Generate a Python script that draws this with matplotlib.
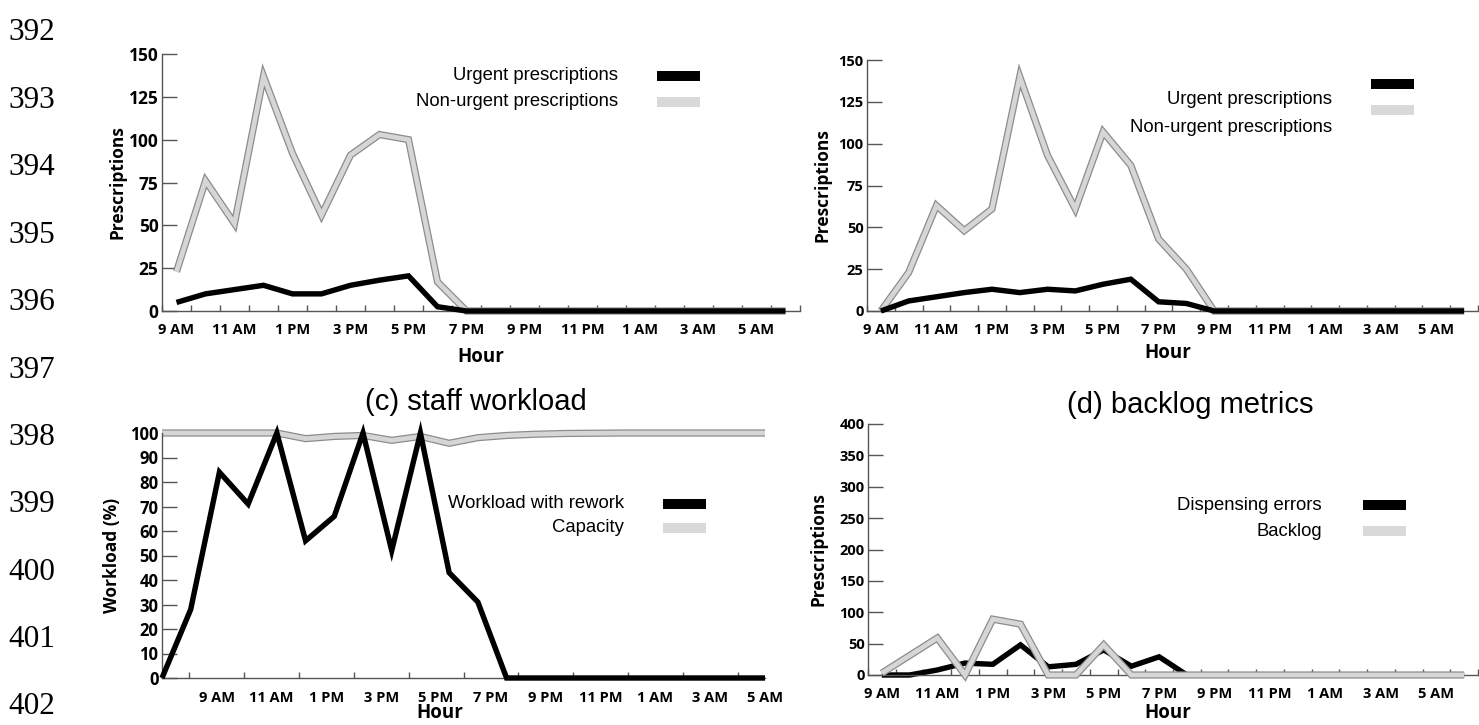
import numpy as np
import matplotlib.pyplot as plt
from matplotlib.patches import Rectangle

plt.rcParams['font.family'] = ['Liberation Sans', 'DejaVu Sans']

# hour labels
cat_labels = ['9 AM', '11 AM', '1 PM', '3 PM', '5 PM', '7 PM', '9 PM', '11 PM', '1 AM', '3 AM', '5 AM']

# (a) prescriptions
urgent_a = [5, 10, 12.5, 15, 10, 10, 15, 18, 20.5, 2.5, 0, 0, 0, 0, 0, 0, 0, 0, 0, 0, 0, 0]
nonurgent_a = [23, 76, 51, 137, 92, 56, 91, 103, 100, 17, 0, 0, 0, 0, 0, 0, 0, 0, 0, 0, 0, 0]

# (b) prescriptions
urgent_b = [0, 6, 8.5, 11, 13, 11, 13, 12, 16, 19, 5.5, 4.5, 0, 0, 0, 0, 0, 0, 0, 0, 0, 0]
nonurgent_b = [0, 23, 63, 48, 61, 140, 93, 61, 107, 87, 43, 25, 0, 0, 0, 0, 0, 0, 0, 0, 0, 0]

# (c) staff workload
workload_c = [0, 28, 84, 71, 100, 56, 66, 100, 52, 100, 43, 31, 0, 0, 0, 0, 0, 0, 0, 0, 0, 0]
capacity_c = [100, 100, 100, 100, 100, 97.7, 98.6, 99, 97, 98.6, 95.8, 98.1, 99, 99.5, 99.8,
              99.9, 100, 100, 100, 100, 100, 100]

# (d) backlog metrics
errors_d = [0, 0, 8, 19, 17, 48, 13, 17, 40, 14, 29, 0, 0, 0, 0, 0, 0, 0, 0, 0, 0, 0]
backlog_d = [3, 31, 59, 0, 89, 81, 0, 0, 48, 0, 0, 0, 0, 0, 0, 0, 0, 0, 0, 0, 0, 0]

line_numbers = list(range(392, 403))

W, H = 1479, 725
fig = plt.figure(figsize=(W / 100, H / 100), dpi=100)

BLACK = '#000000'
GRAY_IN = '#d6d6d6'
GRAY_OUT = '#8c8c8c'
SPINE = '#555555'
BOLD_FAMILY = ['Open Sans', 'DejaVu Sans']


def px_axes(l, t, r, b):
    ax = fig.add_axes([l / W, 1 - b / H, (r - l) / W, (b - t) / H])
    ax.px_box = (l, t, r, b)
    return ax


def gray_line(ax, x, y, z=2):
    ax.plot(x, y, color=GRAY_OUT, lw=5.2, solid_joinstyle='miter', solid_capstyle='butt',
            clip_on=False, zorder=z)
    ax.plot(x, y, color=GRAY_IN, lw=3.4, solid_joinstyle='miter', solid_capstyle='butt',
            clip_on=False, zorder=z + 0.1)


def black_line(ax, x, y, z=3):
    ax.plot(x, y, color=BLACK, lw=3.9, solid_joinstyle='miter', solid_capstyle='butt',
            clip_on=False, zorder=z)


def bold_labels(labels, size):
    for lab in labels:
        lab.set_fontfamily(BOLD_FAMILY)
        lab.set_fontweight('bold')
        lab.set_fontsize(size)


def style(ax, ylabel, yticks, ysize, ylab_right, hour_x, hour_y):
    l, t, r, b = ax.px_box
    for s in ['top', 'right']:
        ax.spines[s].set_visible(False)
    for s in ['left', 'bottom']:
        ax.spines[s].set_color(SPINE)
        ax.spines[s].set_linewidth(1.0)
    ax.set_yticks(yticks)
    ax.set_ylim(yticks[0], yticks[-1])
    ax.tick_params(axis='y', direction='in', length=11, width=1, color=SPINE, pad=2.5)
    bold_labels(ax.get_yticklabels(), ysize)
    ax.set_ylabel(ylabel, fontsize=12.5, family=BOLD_FAMILY, weight='bold')
    ax.yaxis.set_label_coords((ylab_right - l) / (r - l), 0.5)
    ax.set_xlabel('Hour', fontsize=13.5, family=BOLD_FAMILY, weight='bold')
    ax.xaxis.label.set_va('center')
    ax.xaxis.set_label_coords((hour_x - l) / (r - l), (b - hour_y) / (b - t))


def cat_xaxis(ax):
    n = len(urgent_a)
    ax.set_xlim(-0.5, n - 0.5)
    ax.set_xticks(np.arange(0, 21, 2))
    ax.set_xticklabels(cat_labels)
    ax.set_xticks(np.arange(-0.5, n, 1), minor=True)
    ax.tick_params(axis='x', which='major', length=0, pad=9)
    ax.tick_params(axis='x', which='minor', direction='in', length=4.5, width=1, color=SPINE)
    bold_labels(ax.get_xticklabels(), 10.5)


def legend(tx, ty1, ty2, px, py1, py2, lab1, lab2):
    fig.text(tx / W, 1 - ty1 / H, lab1, ha='right', va='center', fontsize=13.3)
    fig.text(tx / W, 1 - ty2 / H, lab2, ha='right', va='center', fontsize=13.3)
    for py, c in [(py1, BLACK), (py2, '#d9d9d9')]:
        fig.patches.append(Rectangle((px / W, 1 - (py + 5) / H), 43 / W, 10 / H,
                                     transform=fig.transFigure, color=c, lw=0))


x = np.arange(len(urgent_a))

# (a)
ax = px_axes(162, 54, 800, 311)
gray_line(ax, x, nonurgent_a)
black_line(ax, x, urgent_a)
cat_xaxis(ax)
style(ax, 'Prescriptions', [0, 25, 50, 75, 100, 125, 150], 12.5, 126, 481, 357)
legend(618, 75, 102, 657, 76, 102, 'Urgent prescriptions', 'Non-urgent prescriptions')

# (b)
ax = px_axes(867, 60, 1478, 311)
gray_line(ax, x, nonurgent_b)
black_line(ax, x, urgent_b)
cat_xaxis(ax)
style(ax, 'Prescriptions', [0, 25, 50, 75, 100, 125, 150], 10.5, 832, 1168, 353)
legend(1332, 100, 128, 1371, 84, 110, 'Urgent prescriptions', 'Non-urgent prescriptions')

# (c)
ax = px_axes(162, 433, 765, 678)
gray_line(ax, x, capacity_c)
black_line(ax, x, workload_c)
n = len(workload_c)
tick_pos = np.arange(n + 1) * (n - 1) / n
ax.set_xlim(0, n - 1)
ax.set_xticks(tick_pos[2::2])
ax.set_xticklabels(cat_labels)
ax.set_xticks(tick_pos, minor=True)
ax.tick_params(axis='x', which='major', length=0, pad=9)
ax.tick_params(axis='x', which='minor', direction='in', length=4.5, width=1, color=SPINE)
bold_labels(ax.get_xticklabels(), 10.5)
style(ax, 'Workload (%)', list(range(0, 101, 10)), 12, 121, 440, 713)
legend(624, 504, 528, 663, 504, 528, 'Workload with rework', 'Capacity')
fig.text(476 / W, 1 - 402 / H, '(c) staff workload', ha='center', va='center', fontsize=21)

# (d)
ax = px_axes(868, 424, 1478, 675)
black_line(ax, x, errors_d, z=2)
gray_line(ax, x, backlog_d, z=3)
cat_xaxis(ax)
style(ax, 'Prescriptions', list(range(0, 401, 50)), 10.5, 827, 1168, 713)
legend(1322, 505, 531, 1363, 505, 531, 'Dispensing errors', 'Backlog')
fig.text(1190 / W, 1 - 405 / H, '(d) backlog metrics', ha='center', va='center', fontsize=21)

# manuscript line numbers
for i, num in enumerate(line_numbers):
    fig.text(8 / W, 1 - (33 + i * 67.4) / H, str(num), ha='left', va='center',
             fontsize=22.5, family=['Liberation Serif', 'DejaVu Serif'])

fig.savefig('out.png', dpi=100)
